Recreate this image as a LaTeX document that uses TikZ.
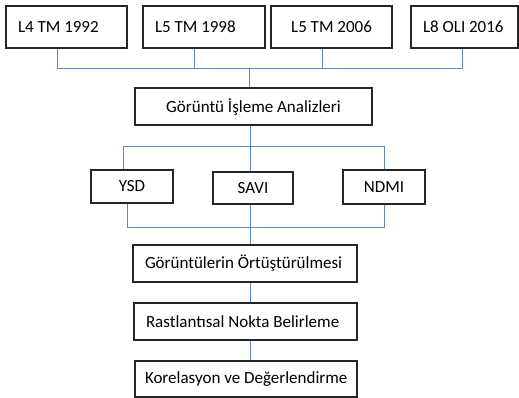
\documentclass[tikz,border=0pt]{standalone}
\usepackage{fontspec}
\setmainfont{Carlito}
\definecolor{linkblue}{HTML}{5B87C5}
\definecolor{boxline}{HTML}{262626}
\newcommand{\lefttext}[2]{\makebox[#1][l]{#2}}
\begin{document}
\begin{tikzpicture}[x=1pt,y=-1pt,
  box/.style={draw=boxline,line width=1.3pt,rectangle,font=\fontsize{17}{20}\selectfont,text=black,inner ysep=0pt},
  lbox/.style={box,inner xsep=12pt},
  conn/.style={draw=linkblue,line width=1pt}]
\useasboundingbox (0,0) rectangle (519,398);
\node[lbox,minimum width=121pt,minimum height=42pt] (t1) at (66.5,27) {\lefttext{97pt}{L4 TM 1992}};
\node[lbox,minimum width=122pt,minimum height=42pt] (t2) at (204,27) {\lefttext{98pt}{L5 TM 1998}};
\node[box,minimum width=121pt,minimum height=42pt] (t3) at (331.5,27) {L5 TM 2006};
\node[lbox,minimum width=107pt,minimum height=42pt] (t4) at (464.5,27) {\lefttext{83pt}{L8 OLI 2016}};
\node[box,minimum width=237pt,minimum height=37pt] (g) at (253.5,106.5) {Görüntü İşleme Analizleri};
\node[box,minimum width=82pt,minimum height=33pt] (ysd) at (132,186.5) {YSD};
\node[box,minimum width=80pt,minimum height=32pt] (savi) at (253,188) {SAVI};
\node[box,minimum width=82pt,minimum height=34pt] (ndmi) at (384,187) {NDMI};
\node[lbox,minimum width=224pt,minimum height=37pt] (o) at (245,263.5) {\lefttext{200pt}{Görüntülerin Örtüştürülmesi}};
\node[lbox,minimum width=223pt,minimum height=37pt] (r) at (245.5,321.5) {\lefttext{199pt}{Rastlantısal Nokta Belirleme}};
\node[lbox,minimum width=222pt,minimum height=36pt,inner xsep=10pt] (k) at (246,379) {\lefttext{202pt}{Korelasyon ve Değerlendirme}};
\coordinate (b1) at (249,69);
\coordinate (b2) at (250,147);
\coordinate (b3) at (250,227);
\draw[conn] ([xshift=-9.5pt]t1.south) |- (b1);
\draw[conn] ([xshift=-10pt]t2.south) |- (b1);
\draw[conn] ([xshift=-9.5pt]t3.south) |- (b1);
\draw[conn] ([xshift=-2.5pt]t4.south) |- (b1);
\draw[conn] (b1) -- (g.north -| b1);
\draw[conn] (g.south -| b2) -- (b2);
\draw[conn] ([xshift=-9pt]ysd.north) |- (b2);
\draw[conn] (ndmi.north) |- (b2);
\draw[conn] (b2) -- (savi.north -| b2);
\draw[conn] ([xshift=-5pt]ysd.south) |- (b3);
\draw[conn] (ndmi.south) |- (b3);
\draw[conn] (savi.south -| b3) -- (b3);
\draw[conn] (b3) -- (o.north -| b3);
\draw[conn] (o.south -| b3) -- (r.north -| b3);
\draw[conn] (r.south -| b3) -- (k.north -| b3);
\end{tikzpicture}
\end{document}
